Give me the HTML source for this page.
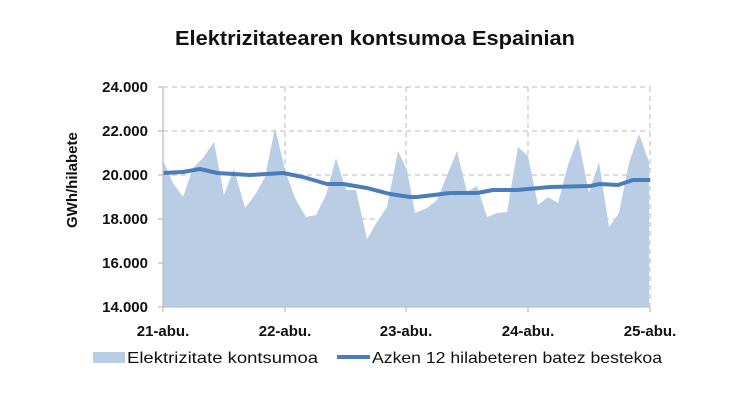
<!DOCTYPE html>
<html><head><meta charset="utf-8"><style>body{margin:0;background:#fff}svg{display:block}text{font-family:"Liberation Sans",sans-serif}</style></head><body>
<svg width="750" height="400" xmlns="http://www.w3.org/2000/svg">
<text x="375" y="45" text-anchor="middle" font-size="20" font-weight="bold" fill="#111" textLength="400" lengthAdjust="spacingAndGlyphs">Elektrizitatearen kontsumoa Espainian</text>
<g stroke="#c8c8c8" stroke-dasharray="5,4" stroke-width="1.3" fill="none">
<line x1="163" y1="87" x2="650" y2="87"/><line x1="163" y1="131" x2="650" y2="131"/><line x1="163" y1="175" x2="650" y2="175"/><line x1="163" y1="219" x2="650" y2="219"/><line x1="163" y1="263" x2="650" y2="263"/>
<line x1="285" y1="87" x2="285" y2="307"/><line x1="406" y1="87" x2="406" y2="307"/><line x1="528" y1="87" x2="528" y2="307"/><line x1="650" y1="87" x2="650" y2="307"/>
</g>
<polygon fill="#b9cde5" points="163,307 163,160 173,183 183,197 193,168 203,158 214,142 224,195 234,169 245,208 255,195 265,177 275,128 285,170 295,198 306,217 316,215 326,195 336,158 346,190 356,190 367,239 377,222 387,207 398,151 407,170 415,213 427,208 437,200 457,151 467,192 477,186 487,217 497,213 507,212 518,147 528,156 538,205 548,197 558,203 568,165 578,138 589,193 599,162 609,227 619,213 629,163 639,134 649,162 649,307"/>
<polyline fill="none" stroke="#4a7ebb" stroke-width="4" stroke-linejoin="round" points="163,173 183,172 200,169 217,173 250,175 283,173 303,177 327,184 343,184 367,188 390,194 410,197 417,197 450,193 477,193 493,190 517,190 550,187 590,186 600,184 618,185 633,180 650,180"/>
<g stroke="#bfbfbf" stroke-width="1.3">
<line x1="163" y1="87" x2="163" y2="312"/><line x1="158" y1="307" x2="650" y2="307"/>
<line x1="158" y1="87" x2="163" y2="87"/><line x1="158" y1="131" x2="163" y2="131"/><line x1="158" y1="175" x2="163" y2="175"/><line x1="158" y1="219" x2="163" y2="219"/><line x1="158" y1="263" x2="163" y2="263"/>
<line x1="285" y1="307" x2="285" y2="312"/><line x1="406" y1="307" x2="406" y2="312"/><line x1="528" y1="307" x2="528" y2="312"/><line x1="650" y1="307" x2="650" y2="312"/>
</g>
<g font-size="15" font-weight="bold" fill="#111" text-anchor="end">
<text x="148" y="92">24.000</text><text x="148" y="136">22.000</text><text x="148" y="180">20.000</text><text x="148" y="224">18.000</text><text x="148" y="268">16.000</text><text x="148" y="312">14.000</text>
</g>
<g font-size="15" font-weight="bold" fill="#111" text-anchor="middle">
<text x="163" y="336">21-abu.</text><text x="285" y="336">22-abu.</text><text x="406" y="336">23-abu.</text><text x="528" y="336">24-abu.</text><text x="650" y="336">25-abu.</text>
</g>
<text transform="translate(77,228) rotate(-90)" font-size="15" font-weight="bold" fill="#111">GWh/hilabete</text>
<rect x="93" y="352" width="32" height="11" fill="#b9cde5"/>
<text x="127" y="363" font-size="16" fill="#111" textLength="191" lengthAdjust="spacingAndGlyphs">Elektrizitate kontsumoa</text>
<line x1="337" y1="357" x2="370" y2="357" stroke="#4a7ebb" stroke-width="4"/>
<text x="372" y="363" font-size="16" fill="#111" textLength="290" lengthAdjust="spacingAndGlyphs">Azken 12 hilabeteren batez bestekoa</text>
</svg>
</body></html>
